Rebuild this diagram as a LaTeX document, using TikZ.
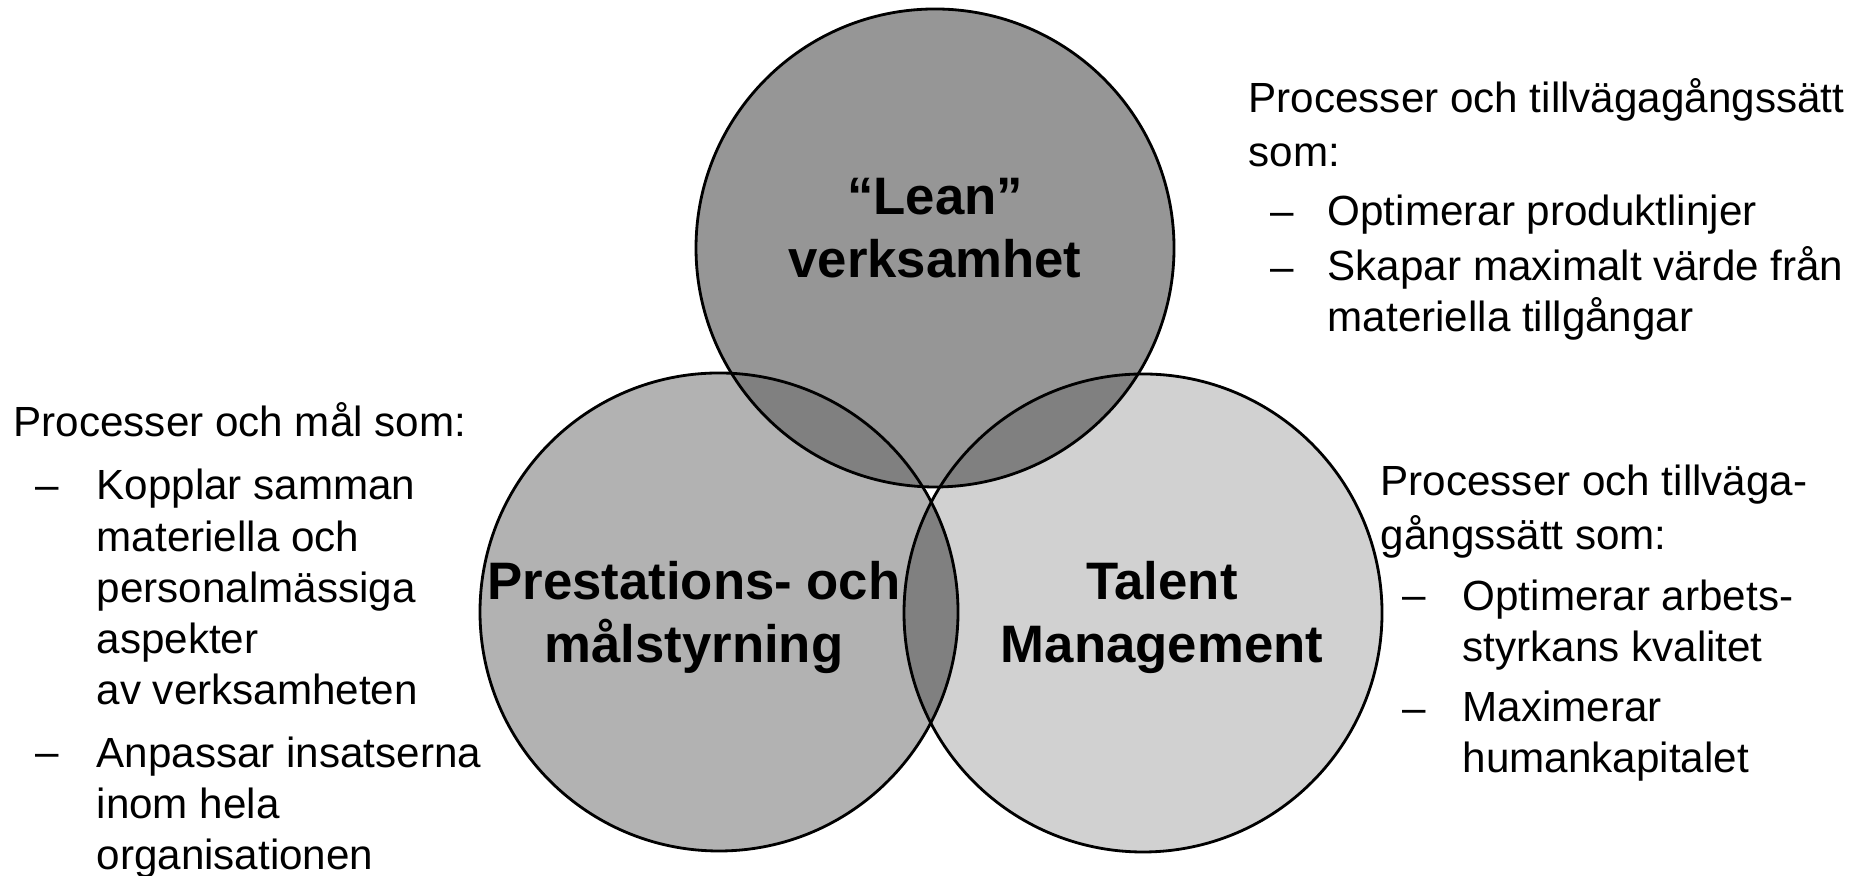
\documentclass[tikz,border=0pt]{standalone}
\usepackage{fontspec}
\setmainfont{Liberation Sans}
\usepackage{tikz}
\usetikzlibrary{positioning}

\definecolor{leangray}{gray}{0.59}
\definecolor{prestgray}{gray}{0.70}
\definecolor{talentgray}{gray}{0.82}
\definecolor{lensgray}{gray}{0.50}

\begin{document}
\begin{tikzpicture}[
        venn/.style = {
            circle,
            minimum size = 4.78cm,
            inner sep = 0pt,
            outer sep = 0pt
        },
        txt/.style = {
            font = \fontsize{12}{14.6}\selectfont,
            align = left,
            inner sep = 0pt,
            anchor = base west
        },
        vennlabel/.style = {
            font = \bfseries\fontsize{15}{18.2}\selectfont,
            align = center,
            inner sep = 0pt,
            anchor = base
        }
        ]
%
        \useasboundingbox (0,0) rectangle (18.66,8.76);
%
        \node[venn, fill=leangray] (lean) at (9.35,6.28) {};
        \node[venn, fill=prestgray] (prest) at (7.19,2.64) {};
        \node[venn, fill=talentgray] (talent) at (11.43,2.63) {};
%
        \begin{scope}
            \clip (lean.center) circle (2.39);
            \fill[lensgray] (prest.center) circle (2.39);
            \fill[lensgray] (talent.center) circle (2.39);
        \end{scope}
        \begin{scope}
            \clip (prest.center) circle (2.39);
            \fill[lensgray] (talent.center) circle (2.39);
        \end{scope}
%
        \draw[line width = 0.8pt] (lean.center) circle (2.39);
        \draw[line width = 0.8pt] (prest.center) circle (2.39);
        \draw[line width = 0.8pt] (talent.center) circle (2.39);
%
% base anchor of a multi-line node = baseline of its last line
        \node[vennlabel] (leanlbl) at (9.35,5.98) {“Lean”\\verksamhet};
        \node[vennlabel] (prestlbl) at (6.94,2.13) {Prestations- och\\målstyrning};
        \node[vennlabel] (talentlbl) at (11.62,2.13) {Talent\\Management};
%
% top right
        \node[txt] (leanhead) at (12.48,7.09) {Processer och tillvägagångssätt\\[1pt]som:};
        \node[txt] (leandash1) at (12.70,6.50) {--};
        \node[txt] (leanitem1) at (13.27,6.50) {Optimerar produktlinjer};
        \node[txt] (leandash2) at (12.70,5.94) {--};
        \node[txt] (leanitem2) at (13.27,5.44) {Skapar maximalt värde från\\materiella tillgångar};
%
% left
        \node[txt] (presthead) at (0.13,4.39) {Processer och mål som:};
        \node[txt] (prestdash1) at (0.35,3.76) {--};
        \node[txt] (prestitem1) at (0.96,1.71) {Kopplar samman\\materiella och\\personalmässiga\\aspekter\\av verksamheten};
        \node[txt] (prestdash2) at (0.35,1.09) {--};
        \node[txt] (prestitem2) at (0.96,0.06) {Anpassar insatserna\\inom hela\\organisationen};
%
% bottom right
        \node[txt] (talenthead) at (13.80,3.26) {Processer och tillväga-\\[1pt]gångssätt som:};
        \node[txt] (talentdash1) at (14.02,2.66) {--};
        \node[txt] (talentitem1) at (14.62,2.14) {Optimerar arbets-\\styrkans kvalitet};
        \node[txt] (talentdash2) at (14.02,1.53) {--};
        \node[txt] (talentitem2) at (14.62,1.03) {Maximerar\\humankapitalet};
%
\end{tikzpicture}
\end{document}
